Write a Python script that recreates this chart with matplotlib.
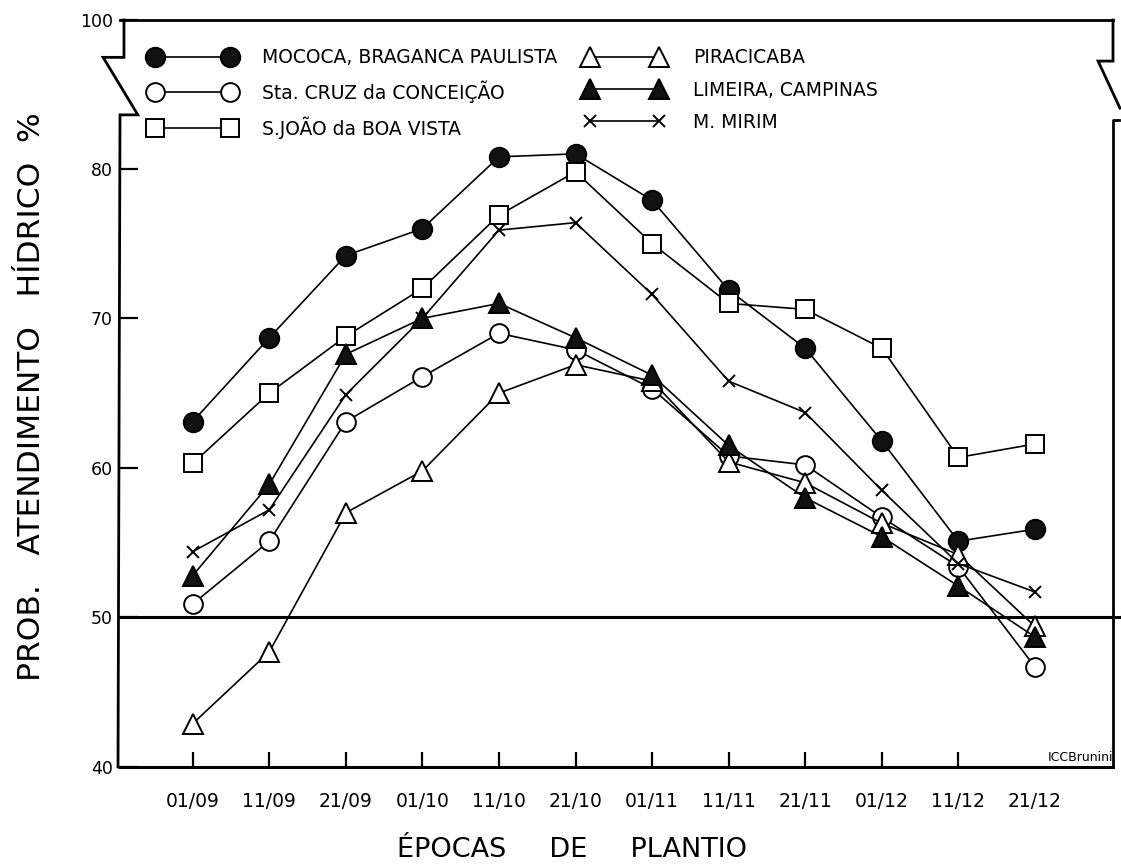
import matplotlib
matplotlib.use('Agg')
from matplotlib import pyplot as plt
from matplotlib.lines import Line2D
import numpy as np

# Épocas de plantio (eixo x)
epocas = ['01/09', '11/09', '21/09', '01/10', '11/10', '21/10',
          '01/11', '11/11', '21/11', '01/12', '11/12', '21/12']

# Probabilidade de atendimento hídrico (%)
mococa = [63.1, 68.7, 74.2, 76.0, 80.8, 81.0, 77.9, 71.9, 68.0, 61.8, 55.1, 55.9]
sta_cruz = [50.9, 55.1, 63.1, 66.1, 69.0, 67.9, 65.3, 60.8, 60.2, 56.7, 53.4, 46.7]
sao_joao = [60.3, 65.0, 68.8, 72.0, 76.9, 79.8, 75.0, 71.0, 70.6, 68.0, 60.7, 61.6]
piracicaba = [42.9, 47.7, 57.0, 59.8, 65.0, 66.9, 65.8, 60.4, 59.0, 56.3, 54.2, 49.4]
limeira = [52.8, 58.9, 67.6, 70.0, 71.0, 68.7, 66.2, 61.5, 58.0, 55.4, 52.1, 48.7]
m_mirim = [54.4, 57.2, 64.9, 70.0, 75.9, 76.4, 71.6, 65.8, 63.7, 58.5, 53.6, 51.7]

nomes = ['MOCOCA, BRAGANCA PAULISTA', 'Sta. CRUZ da CONCEIÇÃO', 'S.JOÃO da BOA VISTA',
         'PIRACICABA', 'LIMEIRA, CAMPINAS', 'M. MIRIM']

y_ticks = [40, 50, 60, 70, 80, 89.95]   # 100 fica no topo (eixo quebrado)
y_tick_labels = ['40', '50', '60', '70', '80', '100']

plt.rcParams['font.family'] = ['DejaVu Sans']

fig = plt.figure(figsize=(11.21, 8.65), dpi=100)
ax = fig.add_axes([120 / 1121, 1 - 767 / 865, 993 / 1121, 747 / 865])

x = np.arange(len(epocas))

# estilo de cada série: marcador, preenchimento, tamanho
estilos = [
    dict(marker='o', markerfacecolor='#111111', markersize=14),
    dict(marker='o', markerfacecolor='white', markersize=13.5),
    dict(marker='s', markerfacecolor='white', markersize=13),
    dict(marker='^', markerfacecolor='white', markersize=15),
    dict(marker='^', markerfacecolor='#111111', markersize=15),
    dict(marker='x', markerfacecolor='none', markersize=9),
]
series = [mococa, sta_cruz, sao_joao, piracicaba, limeira, m_mirim]
ordem = [0, 1, 2, 3, 5, 4]  # M. MIRIM desenhado antes de LIMEIRA

linhas = {}
for z, i in enumerate(ordem):
    ln, = ax.plot(x, series[i], color='black', lw=1.2, markeredgecolor='black',
                  markeredgewidth=1.4, zorder=3 + z, label=nomes[i], **estilos[i])
    linhas[i] = ln

# linha de referência dos 50 %
ax.axhline(50, xmax=1.008, color='black', lw=2.2, zorder=2, clip_on=False)

ax.set_xlim(-0.95, 12.02)
ax.set_ylim(40, 89.95)

ax.set_xticks(x, epocas, fontsize=13.5)
ax.xaxis.get_major_ticks()[-1].tick1line.set_visible(False)
ax.set_yticks(y_ticks, y_tick_labels, fontsize=12.5)
ax.tick_params(axis='x', direction='in', length=11, width=1.6, pad=18)
ax.tick_params(axis='y', direction='in', length=13, width=1.6, pad=5)

ax.spines['top'].set_linewidth(2)
ax.spines['bottom'].set_linewidth(2.2)
ax.spines['left'].set_visible(False)
ax.spines['right'].set_visible(False)

# eixos com a quebra desenhada à mão
esq = Line2D([0.004, 0.004, -0.017, 0.018, 0.0, -0.002], [1.0, 0.950, 0.950, 0.873, 0.873, 0.0],
             transform=ax.transAxes, color='black', lw=2, clip_on=False, solid_joinstyle='miter')
dir1 = Line2D([1.0, 1.0, 0.985, 1.007], [1.0, 0.945, 0.945, 0.882],
              transform=ax.transAxes, color='black', lw=2, clip_on=False, solid_joinstyle='miter')
dir2 = Line2D([1.006, 1.0, 1.0], [0.866, 0.866, 0.0],
              transform=ax.transAxes, color='black', lw=2, clip_on=False)
for l in (esq, dir1, dir2):
    ax.add_line(l)

# legendas (duas colunas separadas)
leg1 = ax.legend([linhas[0], linhas[1], linhas[2]], nomes[:3], loc='upper left',
                 bbox_to_anchor=(0.0296, 0.962), frameon=False, numpoints=2,
                 handlelength=4.6, handletextpad=1.4, labelspacing=0.7,
                 borderpad=0, borderaxespad=0, fontsize=13.5)
ax.add_artist(leg1)
ax.legend([linhas[3], linhas[4], linhas[5]], nomes[3:], loc='upper left',
          bbox_to_anchor=(0.4677, 0.962), frameon=False, numpoints=2,
          handlelength=4.3, handletextpad=1.5, labelspacing=0.7,
          borderpad=0, borderaxespad=0, fontsize=13.5)

ax.text(1.0, 0.004, 'ICCBrunini', transform=ax.transAxes, ha='right', va='bottom',
        fontsize=9)

fig.text(572 / 1121, 1 - 850 / 865, 'ÉPOCAS     DE     PLANTIO', ha='center', va='center',
         fontsize=19.5)
fig.text(32 / 1121, 1 - 397 / 865, 'PROB.   ATENDIMENTO   HÍDRICO  %', rotation=90,
         ha='center', va='center', fontsize=22.5)

fig.savefig('out.png', dpi=100)
